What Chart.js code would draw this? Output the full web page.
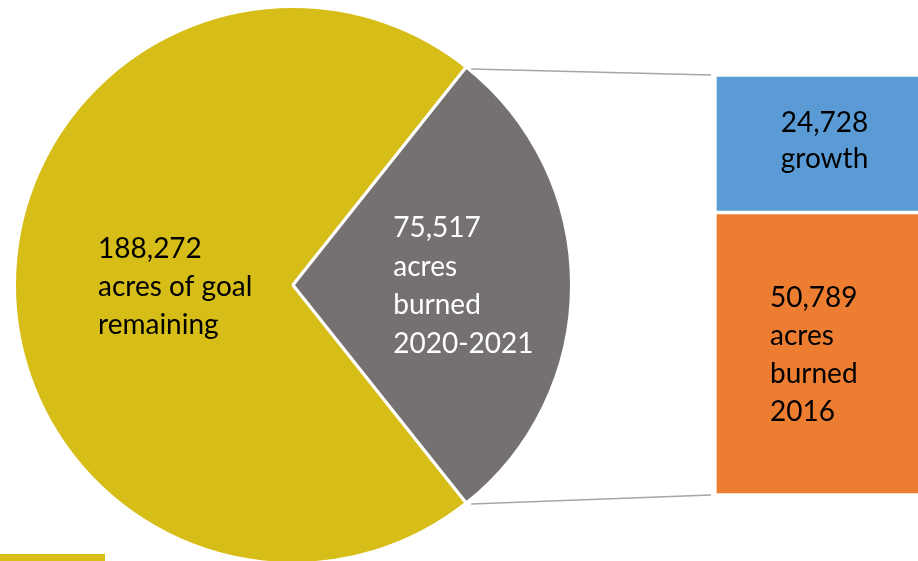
<!DOCTYPE html>
<html>
  <head>
    <title>Acres burned</title>
    <script src="https://cdn.jsdelivr.net/npm/chart.js"></script>
    <style>
      body { margin: 0; background: #fff; }
      #wrap { position: relative; width: 918px; height: 561px; overflow: hidden; }
      canvas { position: absolute; left: 0; top: 0; }
      #deco { position: absolute; left: 0; top: 554px; width: 105px; height: 7px; background: #D6BD17; }
    </style>
  </head>
  <body>
    <div id="wrap">
      <canvas id="pieChart" width="586" height="570"></canvas>
      <canvas id="barChart" width="930" height="561"></canvas>
      <div id="deco"></div>
    </div>
    <script>
      // pie: goal remaining vs burned 2020-2021
      var pieLabels = ["acres of goal remaining", "acres burned 2020-2021"];
      var pieValues = [188272, 75517];
      var pieColors = ["#D6BD17", "#767171"];
      var pieText = [["188,272", "acres of goal", "remaining"], ["75,517", "acres", "burned", "2020-2021"]];

      // bar: split of the burned slice, bottom segment first
      var barLabels = ["acres burned 2016", "growth"];
      var barValues = [50789, 24728];
      var barColors = ["#ED7D31", "#5B9BD5"];
      var barText = [["50,789", "acres", "burned", "2016"], ["24,728", "growth"]];

      var FONT = "28px Lato, 'Noto Sans', sans-serif";
      var total = pieValues[0] + pieValues[1];
      var grayDeg = 360 * pieValues[1] / total;

      var pieLabelPlugin = {
        id: "pieLabels",
        afterDraw: function (chart) {
          var ctx = chart.ctx;
          var arcs = chart.getDatasetMeta(0).data;
          var cx = arcs[0].x, cy = arcs[0].y, r = arcs[0].outerRadius;
          ctx.save();
          ctx.font = FONT;
          ctx.textAlign = "left";
          ctx.textBaseline = "alphabetic";
          // gold label, left of centre
          ctx.fillStyle = "#000";
          pieText[0].forEach(function (t, i) {
            ctx.fillText(t, cx - r * 0.70, cy - 27 + i * 38);
          });
          // gray label inside the wedge
          ctx.fillStyle = "#fff";
          pieText[1].forEach(function (t, i) {
            ctx.fillText(t, cx + r * 0.36, cy - 48 + i * 38.5);
          });
          ctx.restore();
        }
      };

      var pieChart = new Chart(document.getElementById("pieChart").getContext("2d"), {
        type: "pie",
        data: {
          labels: pieLabels,
          datasets: [{
            data: pieValues,
            backgroundColor: pieColors,
            borderColor: "#fff",
            borderWidth: 3
          }]
        },
        options: {
          responsive: false,
          animation: false,
          rotation: 90 + grayDeg / 2,
          layout: { padding: 5 },
          plugins: { legend: { display: false }, tooltip: { enabled: false } }
        },
        plugins: [pieLabelPlugin]
      });

      var barExtras = {
        id: "barExtras",
        afterDraw: function (chart) {
          var ctx = chart.ctx;
          var bottom = chart.getDatasetMeta(0).data[0];
          var top = chart.getDatasetMeta(1).data[0];
          var left = top.x - top.width / 2;
          // connector lines from the gray wedge edges to the bar corners
          var arc = pieChart.getDatasetMeta(0).data[1];
          var a1 = arc.startAngle, a2 = arc.endAngle, R = arc.outerRadius;
          ctx.save();
          ctx.strokeStyle = "#A6A6A6";
          ctx.lineWidth = 1.5;
          ctx.beginPath();
          ctx.moveTo(arc.x + R * Math.cos(a1) + 5, arc.y + R * Math.sin(a1) + 2);
          ctx.lineTo(left - 4, top.y);
          ctx.moveTo(arc.x + R * Math.cos(a2) + 5, arc.y + R * Math.sin(a2) + 1);
          ctx.lineTo(left - 4, bottom.base);
          ctx.stroke();
          // texts
          ctx.font = FONT;
          ctx.fillStyle = "#000";
          ctx.textBaseline = "alphabetic";
          ctx.textAlign = "center";
          var midTop = (top.y + top.base) / 2;
          barText[1].forEach(function (t, i) {
            ctx.fillText(t, top.x + 2, midTop - 12 + i * 36);
          });
          ctx.textAlign = "left";
          var midBot = (bottom.y + bottom.base) / 2;
          barText[0].forEach(function (t, i) {
            ctx.fillText(t, left + 55, midBot - 47 + i * 38);
          });
          ctx.restore();
        }
      };

      var barChart = new Chart(document.getElementById("barChart").getContext("2d"), {
        type: "bar",
        data: {
          labels: [""],
          datasets: barLabels.map(function (lab, i) {
            return {
              label: lab,
              data: [barValues[i]],
              backgroundColor: barColors[i],
              borderColor: "#fff",
              borderWidth: 2,
              borderSkipped: false,
              barPercentage: 1,
              categoryPercentage: 1
            };
          })
        },
        options: {
          responsive: false,
          animation: false,
          layout: { padding: { left: 715, top: 75, bottom: 66, right: 0 } },
          scales: {
            x: { display: false, stacked: true },
            y: { display: false, stacked: true, min: 0, max: pieValues[1] }
          },
          plugins: { legend: { display: false }, tooltip: { enabled: false } }
        },
        plugins: [barExtras]
      });
    </script>
  </body>
</html>
